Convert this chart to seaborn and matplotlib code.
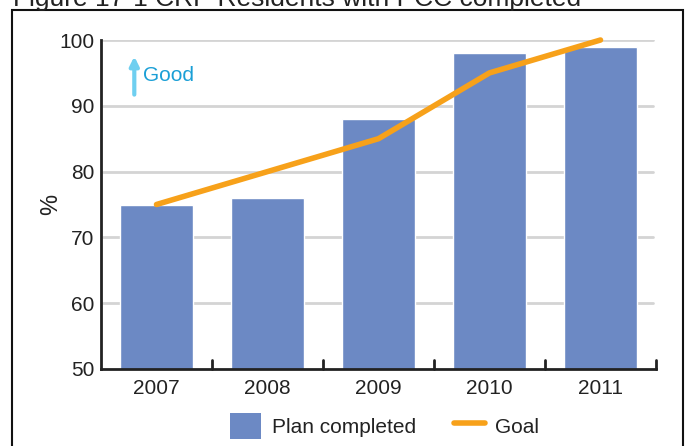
import matplotlib
matplotlib.use("Agg")
import matplotlib.pyplot as plt
import seaborn as sns
import pandas as pd
from matplotlib.patches import Rectangle, Patch
from matplotlib.lines import Line2D

years = ["2007", "2008", "2009", "2010", "2011"]
plan_completed = [75, 76, 88, 98, 99]
goal = [75, 80, 85, 95, 100]
y_ticks = [50, 60, 70, 80, 90, 100]

sns.set_theme(style="white")
plt.rcParams["font.family"] = ["Liberation Sans", "DejaVu Sans"]

df = pd.DataFrame({"year": years, "plan": plan_completed, "goal": goal})

fig = plt.figure(figsize=(6.87, 4.46), dpi=100)
ax = fig.add_axes([101 / 687, 1 - 369 / 446, 555 / 687, 329 / 446])

bar_color = "#6c89c4"
goal_color = "#f7a11a"
text_color = "#222222"

for t in y_ticks[1:]:
    ax.axhline(t, color="#d4d4d4", lw=2, zorder=0, xmin=0.003, xmax=0.995)

sns.barplot(data=df, x="year", y="plan", color=bar_color, width=0.65,
            saturation=1, ax=ax, zorder=2)
sns.lineplot(x=list(range(len(years))), y=goal, color=goal_color, lw=4,
             ax=ax, zorder=3, clip_on=False, solid_capstyle="round")

ax.set_ylim(50, 100)
ax.set_xlim(-0.5, len(years) - 0.5)
ax.set_yticks(y_ticks)
ax.set_yticklabels([str(t) for t in y_ticks], fontsize=15, color=text_color)
ax.set_xticks(range(len(years)))
ax.set_xticklabels(years, fontsize=15, color=text_color)
ax.tick_params(axis="x", length=0, pad=7)
ax.tick_params(axis="y", length=0, pad=5)
ax.set_xlabel("")
ax.set_ylabel("%", fontsize=17, labelpad=-2, color=text_color)

for s in ["top", "right"]:
    ax.spines[s].set_visible(False)
for s in ["left", "bottom"]:
    ax.spines[s].set_color(text_color)
    ax.spines[s].set_linewidth(2)

# boundary ticks between categories on the baseline
for b in [0.5, 1.5, 2.5, 3.5, 4.5]:
    ax.plot([b, b], [50, 51.3], color=text_color, lw=2, clip_on=False, zorder=4)

# "Good" direction marker
ax.annotate("", xy=(-0.2, 97.5), xytext=(-0.2, 91.7),
            arrowprops=dict(arrowstyle="-|>", color="#6fcff0", lw=3,
                            mutation_scale=13, shrinkA=0, shrinkB=0))
ax.text(-0.12, 94.6, "Good", color="#1a9fd6", fontsize=15, va="center", ha="left")

# legend
handles = [Patch(facecolor=bar_color, edgecolor="none", label="Plan completed"),
           Line2D([0], [0], color=goal_color, lw=4, label="Goal")]
fig.legend(handles=handles, loc="center", bbox_to_anchor=(0.56, 1 - 426 / 446),
           ncol=2, frameon=False, fontsize=15, handlelength=1.5,
           handleheight=1.5, columnspacing=1.8, handletextpad=0.5,
           labelcolor=text_color)

# outer frame and title
fig.add_artist(Rectangle((12 / 687, -0.05), 671 / 687, 1 - 10 / 446 + 0.05,
                         transform=fig.transFigure, fill=False,
                         edgecolor="#111111", lw=1.5))
fig.text(13 / 687, 1 - 6 / 446, "Figure 17-1 CRP Residents with PCC completed",
         fontsize=19, ha="left", va="baseline", color=text_color)

fig.savefig("out.png", dpi=100)
